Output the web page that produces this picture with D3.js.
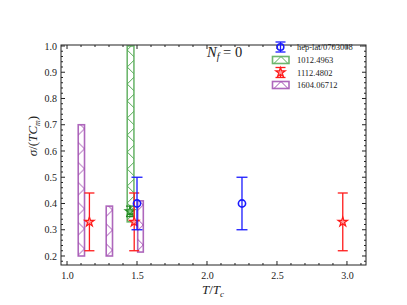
<!DOCTYPE html>
<html><head><meta charset="utf-8">
<script src="https://cdn.jsdelivr.net/npm/d3@7"></script>
<style>body{margin:0;background:#fff}svg{display:block}text{font-family:"Liberation Serif",serif;fill:#222}</style>
</head><body>
<script>
// ---- data ----
const xTicks = [1.0, 1.5, 2.0, 2.5, 3.0];
const yTicks = [0.2, 0.3, 0.4, 0.5, 0.6, 0.7, 0.8, 0.9, 1.0];
const legendLabels = ["hep-lat/0703008", "1012.4963", "1112.4802", "1604.06712"];
// hep-lat/0703008 (blue circles)
const blueT = [1.50, 2.25];
const blueY = [0.40, 0.40];
const blueLo = [0.30, 0.30];
const blueHi = [0.50, 0.50];
// 1112.4802 (red stars)
const redT = [1.16, 1.48, 2.97];
const redY = [0.33, 0.33, 0.33];
const redLo = [0.22, 0.22, 0.22];
const redHi = [0.44, 0.44, 0.44];
// 1012.4963 (green band + point)
const greenT0 = [1.43];
const greenT1 = [1.478];
const greenLo = [0.33];
const greenHi = [1.00];
const greenPtT = [1.45];
const greenPtY = [0.37];
const greenPtLo = [0.35];
const greenPtHi = [0.39];
// 1604.06712 (purple bands)
const purpleT0 = [1.08, 1.28, 1.505];
const purpleT1 = [1.125, 1.325, 1.545];
const purpleLo = [0.20, 0.20, 0.215];
const purpleHi = [0.70, 0.39, 0.41];

const W = 407, H = 305;
const L = 61, R = 366, T = 45, B = 265;
const blue = "#1a1aff", red = "#ff1a1a", green = "#55aa55", purple = "#a04cb0";

const svg = d3.select("body").append("svg").attr("width", W).attr("height", H);
const x = d3.scaleLinear().domain([0.957, 3.136]).range([L, R]);
const y = d3.scaleLinear().domain([0.1657, 1.0038]).range([B, T]);

const defs = svg.append("defs");
let pid = 0;
function hatch(col, P, x0, y0) {
  const id = "h" + (pid++);
  const p = defs.append("pattern").attr("id", id).attr("patternUnits", "userSpaceOnUse")
    .attr("x", x0).attr("y", y0).attr("width", P).attr("height", P);
  p.append("path").attr("d", `M0,0L${P},${P}M0,${P}L${P},0`).attr("stroke", col)
    .attr("stroke-width", 1).attr("fill", "none");
  return `url(#${id})`;
}

// clip
defs.append("clipPath").attr("id", "clip").append("rect").attr("x", L).attr("y", T).attr("width", R - L).attr("height", B - T);
const g = svg.append("g").attr("clip-path", "url(#clip)");

// purple bands (hatch crossings on right edge)
purpleT0.forEach((t0, i) => {
  const fill = hatch(purple, 20, x(purpleT1[i]), y(purpleHi[i]) + 4);
  g.append("rect").attr("x", x(t0)).attr("y", y(purpleHi[i]))
    .attr("width", x(purpleT1[i]) - x(t0)).attr("height", y(purpleLo[i]) - y(purpleHi[i]))
    .attr("fill", fill).attr("stroke", purple).attr("stroke-width", 1.6).attr("stroke-opacity", 0.85);
});
// green band (hatch crossings on left edge)
greenT0.forEach((t0, i) => {
  const fill = hatch(green, 17, x(t0), y(greenHi[i]) + 4);
  g.append("rect").attr("x", x(t0)).attr("y", y(greenHi[i]))
    .attr("width", x(greenT1[i]) - x(t0)).attr("height", y(greenLo[i]) - y(greenHi[i]))
    .attr("fill", fill).attr("stroke", green).attr("stroke-width", 1.6).attr("stroke-opacity", 0.85);
});

const starPath = d3.symbol().type(d3.symbolStar).size(28);
function errbar(gg, cx, yv, lo, hi, col, cap, marker, starFill) {
  gg.append("line").attr("x1", cx).attr("x2", cx).attr("y1", y(lo)).attr("y2", y(hi)).attr("stroke", col).attr("stroke-width", 1.3);
  [lo, hi].forEach(v => gg.append("line").attr("x1", cx - cap).attr("x2", cx + cap).attr("y1", y(v)).attr("y2", y(v)).attr("stroke", col).attr("stroke-width", 1.3));
  if (marker === "circle") {
    gg.append("circle").attr("cx", cx).attr("cy", y(yv)).attr("r", 3.6).attr("fill", "none").attr("stroke", col).attr("stroke-width", 1.6);
  } else {
    gg.append("path").attr("d", starPath()).attr("transform", `translate(${cx},${y(yv)})`)
      .attr("fill", starFill).attr("stroke", col).attr("stroke-width", 1.2);
  }
}
// green point
greenPtT.forEach((t, i) => errbar(g.append("g"), x(t), greenPtY[i], greenPtLo[i], greenPtHi[i], "#228b22", 4, "star", "#88cc88"));
redT.forEach((t, i) => errbar(g.append("g"), x(t), redY[i], redLo[i], redHi[i], red, 5, "star", "#ff9a9a"));
blueT.forEach((t, i) => errbar(g.append("g"), x(t), blueY[i], blueLo[i], blueHi[i], blue, 5.5, "circle"));

// axes frame and ticks
const axCol = "#222";
svg.append("rect").attr("x", L).attr("y", T).attr("width", R - L).attr("height", B - T)
  .attr("fill", "none").attr("stroke", axCol).attr("stroke-width", 1);
const xMinor = d3.range(10, 32).map(v => v / 10).filter(v => xTicks.indexOf(v) < 0);
const yMinor = d3.range(9, 51).map(v => v / 50).filter(v => v >= 0.17 && v <= 1.0 && !yTicks.some(t => Math.abs(t - v) < 1e-6));
function ticks(vals, len) {
  vals.forEach(v => {
    const xv = x(v);
    svg.append("line").attr("x1", xv).attr("x2", xv).attr("y1", B).attr("y2", B - len).attr("stroke", axCol);
    svg.append("line").attr("x1", xv).attr("x2", xv).attr("y1", T).attr("y2", T + len).attr("stroke", axCol);
  });
}
function yticks(vals, len) {
  vals.forEach(v => {
    const yv = y(v);
    svg.append("line").attr("x1", L).attr("x2", L + len).attr("y1", yv).attr("y2", yv).attr("stroke", axCol);
    svg.append("line").attr("x1", R).attr("x2", R - len).attr("y1", yv).attr("y2", yv).attr("stroke", axCol);
  });
}
ticks(xTicks, 4); ticks(xMinor, 2);
yticks(yTicks, 4); yticks(yMinor, 2);

// tick labels via d3 axis
const xAxis = svg.append("g").attr("transform", `translate(0,${B})`)
  .call(d3.axisBottom(x).tickValues(xTicks).tickFormat(d3.format(".1f")).tickSize(0).tickPadding(7));
const yAxis = svg.append("g").attr("transform", `translate(${L},0)`)
  .call(d3.axisLeft(y).tickValues(yTicks).tickFormat(d3.format(".1f")).tickSize(0).tickPadding(4));
[xAxis, yAxis].forEach(a => {
  a.select(".domain").remove();
  a.selectAll("text").attr("font-family", "Liberation Serif, serif").attr("font-size", 10).attr("fill", "#222");
});

// axis labels
const xl = svg.append("text").attr("x", 213).attr("y", 294).attr("text-anchor", "middle").attr("font-size", 13);
xl.append("tspan").attr("font-style", "italic").text("T");
xl.append("tspan").text("/");
xl.append("tspan").attr("font-style", "italic").text("T");
xl.append("tspan").attr("font-style", "italic").attr("font-size", 9).attr("dy", 3).text("c");

const yl = svg.append("text").attr("transform", "translate(37,136) rotate(-90)").attr("text-anchor", "middle").attr("font-size", 13);
yl.append("tspan").attr("font-style", "italic").text("σ");
yl.append("tspan").text("/(");
yl.append("tspan").attr("font-style", "italic").text("TC");
yl.append("tspan").attr("font-style", "italic").attr("font-size", 8).attr("dy", 3).text("m");
yl.append("tspan").attr("dy", -3).text(")");

// Nf = 0
const nf = svg.append("text").attr("x", 207).attr("y", 57).attr("font-size", 14.5);
nf.append("tspan").attr("font-style", "italic").text("N");
nf.append("tspan").attr("font-style", "italic").attr("font-size", 10).attr("dy", 3).text("f");
nf.append("tspan").attr("dy", -3).text(" = 0");

// legend
const legY = [47, 60, 72.5, 85];
const lg = svg.append("g");
legendLabels.forEach((lab, i) => {
  lg.append("text").attr("x", 297).attr("y", legY[i] + 3).attr("font-size", 8.5).text(lab);
});
function legErr(cy, col, marker) {
  const gg = lg.append("g"); const cx = 280.5;
  gg.append("line").attr("x1", cx).attr("x2", cx).attr("y1", cy - 5).attr("y2", cy + 5).attr("stroke", col).attr("stroke-width", 1.3);
  [-5, 5].forEach(d => gg.append("line").attr("x1", cx - 5).attr("x2", cx + 5).attr("y1", cy + d).attr("y2", cy + d).attr("stroke", col).attr("stroke-width", 1.3));
  if (marker === "circle") gg.append("circle").attr("cx", cx).attr("cy", cy).attr("r", 3.3).attr("fill", "none").attr("stroke", col).attr("stroke-width", 1.6);
  else gg.append("path").attr("d", starPath()).attr("transform", `translate(${cx},${cy})`).attr("fill", "#ff9a9a").attr("stroke", col).attr("stroke-width", 1.2);
}
legErr(legY[0], blue, "circle");
legErr(legY[2], red, "star");
[[1, green], [3, purple]].forEach(([i, col]) => {
  const fill = hatch(col, 17, 272.5, legY[i] - 3.5 - 8.5);
  lg.append("rect").attr("x", 272.5).attr("y", legY[i] - 3.5).attr("width", 16.5).attr("height", 7)
    .attr("fill", fill).attr("stroke", col).attr("stroke-width", 1.6).attr("stroke-opacity", 0.85);
});
</script>
</body></html>
